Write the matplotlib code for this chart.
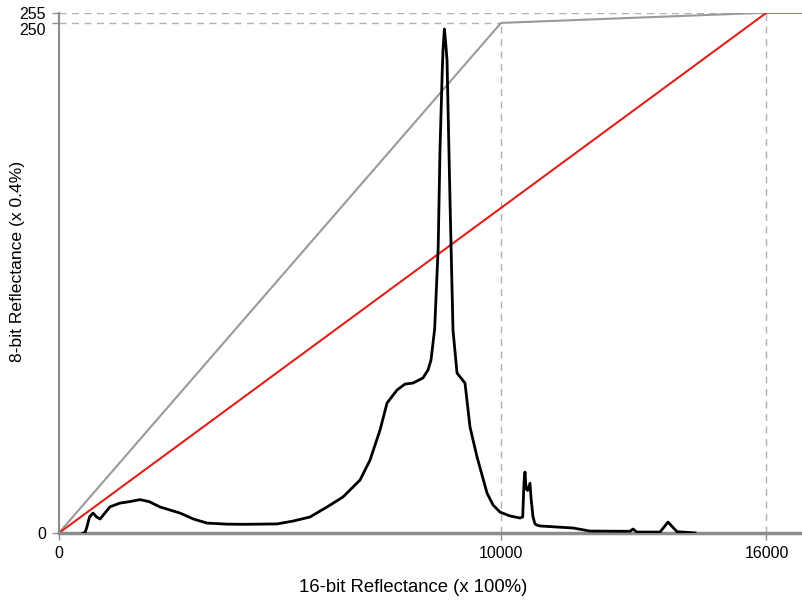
import numpy as np
import matplotlib
matplotlib.use("Agg")
import matplotlib.pyplot as plt
import matplotlib.transforms as mtransforms

plt.rcParams['font.family'] = ['Liberation Sans', 'DejaVu Sans']

# stretch curves (16-bit -> 8-bit)
gray_x = [0, 10000, 16000]
gray_y = [0, 250, 255]
red_x = [0, 16000, 16825]
red_y = [0, 255, 255]

# histogram of the 16-bit image, drawn in 8-bit units
hist_x = [550, 600, 640, 700, 780, 860, 938, 1050, 1164, 1390, 1600, 1842, 2050,
          2294, 2746, 3050, 3356, 3800, 4169, 4938, 5300, 5684, 6068, 6429, 6814,
          7040, 7266, 7424, 7650, 7831, 8011, 8237, 8350, 8418, 8500, 8580, 8621,
          8670, 8689, 8720, 8750, 8780, 8847, 8915, 9006, 9186, 9299, 9458, 9684,
          9819, 9977, 10203, 10429, 10490, 10520, 10542, 10565, 10600, 10655,
          10680, 10723, 10770, 10814, 10881, 11627, 12011, 12915, 12983, 13073,
          13593, 13774, 13977, 14384]
hist_y = [0, 0.5, 3, 8, 9.9, 8, 7.0, 10, 13, 14.8, 15.5, 16.5, 15.5,
          12.9, 9.9, 7, 5.0, 4.5, 4.4, 4.6, 6, 8.0, 12.9, 17.8, 26.1,
          35.9, 50.6, 63.8, 70.2, 73.1, 73.6, 76.1, 80, 84.9, 100, 140, 187.7,
          225, 236.7, 247, 240, 231.7, 163.2, 99.5, 78.5, 73.6, 52.1, 37.4, 19.7,
          13.9, 10.4, 8.5, 7.5, 8.0, 25, 30, 22, 21, 24.5,
          17, 8, 4.5, 4.0, 3.6, 2.6, 1.1, 1.0, 2.1, 0.6,
          0.6, 5.5, 0.8, 0.2]

xticks = [0, 10000, 16000]
yticks = [0, 250, 255]

fig = plt.figure(figsize=(8.03, 6.02), dpi=100)
ax = fig.add_axes([0.0729, 0.1141, 0.9271, 0.8648])

dash = dict(color='#b0b0b0', linestyle=(0, (5, 4)), linewidth=1)
ax.plot([0, 16000], [255, 255], **dash)
ax.plot([0, 10000], [250, 250], **dash)
ax.plot([10000, 10000], [0, 250], **dash)
ax.plot([16000, 16000], [0, 255], **dash)

ax.plot(gray_x, gray_y, color='#9a9a9a', linewidth=1.5)
ax.plot(red_x, red_y, color='#e0201b', linewidth=1.5)
ax.plot(hist_x, hist_y, color='black', linewidth=2, zorder=5)

ax.set_xlim(0, 16825)
ax.set_ylim(0, 255)
ax.set_xticks(xticks)
ax.set_xticklabels([str(t) for t in xticks])
ax.set_yticks(yticks)
ax.set_yticklabels([str(t) for t in yticks])
ax.tick_params(colors='#8c8c8c', labelcolor='black', labelsize=11.5, length=5, width=1, pad=4)

# nudge the 250 label down so it does not collide with 255
lab = ax.get_yticklabels()[1]
lab.set_transform(lab.get_transform() + mtransforms.ScaledTranslation(0, -6 / 100, fig.dpi_scale_trans))

for s in ['top', 'right']:
    ax.spines[s].set_visible(False)
ax.spines['left'].set_color('#8c8c8c')
ax.spines['left'].set_linewidth(1.5)
ax.spines['bottom'].set_color('#8c8c8c')
ax.spines['bottom'].set_linewidth(2.5)

fig.text(413 / 803, 1 - 587 / 602, '16-bit Reflectance (x 100%)', ha='center', va='center', fontsize=13.3)
fig.text(17.5 / 803, 1 - 261 / 602, '8-bit Reflectance (x 0.4%)', ha='center', va='center',
         rotation=90, fontsize=12.6)

fig.savefig('out.png', dpi=100)
